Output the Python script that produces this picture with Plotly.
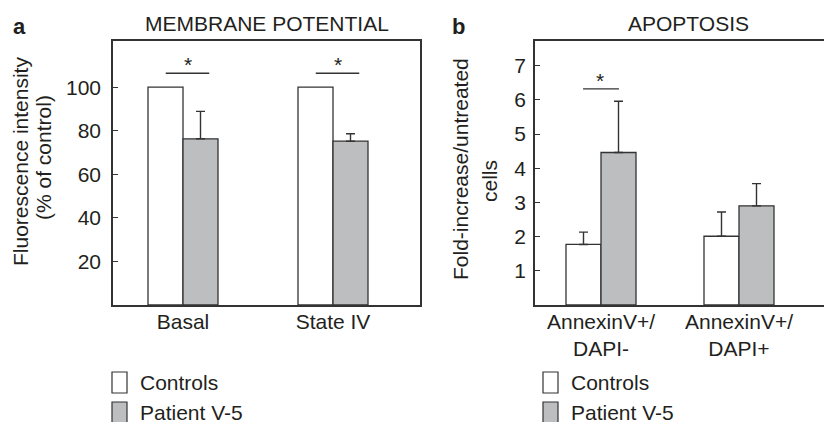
import plotly.graph_objects as go

# ---------------- data ----------------
mp_categories = ["Basal", "State IV"]
mp_controls = [100, 100]
mp_patient = [76.3, 75.2]
mp_patient_err = [12.6, 3.4]

ap_categories = ["AnnexinV+/<br>DAPI-", "AnnexinV+/<br>DAPI+"]
ap_controls = [1.77, 2.01]
ap_controls_err = [0.36, 0.71]
ap_patient = [4.46, 2.90]
ap_patient_err = [1.50, 0.65]

mp_ticks = [20, 40, 60, 80, 100]
ap_ticks = [1, 2, 3, 4, 5, 6, 7]

series_names = ["Controls", "Patient V-5"]
mp_signif = [0, 1]      # category indices with significance bar
ap_signif = [0]

# ---------------- styles ----------------
W, H = 832, 422
OFF = 8                      # default body margin of the html page
TOP, BOT = 41 - OFF, 305 - OFF
INK = "#231f20"
LINE = "#333333"
GREY = "#bcbec0"
FONT = "Liberation Sans, Arial, sans-serif"
FS = 21

fig = go.Figure()

bw_a = 35 / 150
bw_b = 35 / 138

# panel a bars
fig.add_trace(go.Bar(x=mp_categories, y=mp_controls, width=bw_a, offset=-bw_a,
                     marker=dict(color="white", line=dict(color=LINE, width=1.3)),
                     name=series_names[0], showlegend=False, xaxis="x", yaxis="y"))
fig.add_trace(go.Bar(x=mp_categories, y=mp_patient, width=bw_a, offset=0,
                     marker=dict(color=GREY, line=dict(color=LINE, width=1.3)),
                     error_y=dict(type="data", array=mp_patient_err, arrayminus=[0] * len(mp_patient_err),
                                  symmetric=False, color=LINE, thickness=1.4, width=4.5),
                     name=series_names[1], showlegend=False, xaxis="x", yaxis="y"))
# panel b bars
fig.add_trace(go.Bar(x=ap_categories, y=ap_controls, width=bw_b, offset=-bw_b,
                     marker=dict(color="white", line=dict(color=LINE, width=1.3)),
                     error_y=dict(type="data", array=ap_controls_err, arrayminus=[0] * len(ap_controls_err),
                                  symmetric=False, color=LINE, thickness=1.4, width=4.5),
                     name=series_names[0], showlegend=False, xaxis="x2", yaxis="y2"))
fig.add_trace(go.Bar(x=ap_categories, y=ap_patient, width=bw_b, offset=0,
                     marker=dict(color=GREY, line=dict(color=LINE, width=1.3)),
                     error_y=dict(type="data", array=ap_patient_err, arrayminus=[0] * len(ap_patient_err),
                                  symmetric=False, color=LINE, thickness=1.4, width=4.5),
                     name=series_names[1], showlegend=False, xaxis="x2", yaxis="y2"))

axis_common = dict(showline=True, linecolor=LINE, linewidth=1.5, showgrid=False, zeroline=False,
                   automargin=False, tickfont=dict(family=FONT, size=FS, color=INK))

fig.update_layout(
    template="none",
    width=W, height=H,
    margin=dict(l=0, r=0, t=TOP, b=H - BOT, pad=0),
    paper_bgcolor="white", plot_bgcolor="white",
    barmode="overlay",
    showlegend=False,
    font=dict(family=FONT, size=FS, color=INK),
    xaxis=dict(axis_common, domain=[(113 - OFF) / W, (420 - OFF) / W], type="category",
               range=[-70 / 150, 1 + 87 / 150], mirror=True, ticks="",
               ticklabelstandoff=-3, anchor="y"),
    yaxis=dict(axis_common, domain=[0, 1], range=[0, 121.2], mirror=True,
               tickvals=mp_ticks, ticks="inside", ticklen=5, tickcolor=LINE, tickwidth=1.3,
               ticklabelstandoff=6, anchor="x"),
    xaxis2=dict(axis_common, domain=[(535 - OFF) / W, (832 - OFF) / W], type="category",
                range=[-66 / 138, 1 + 93 / 138], mirror=True, ticks="",
                ticklabelstandoff=-3, anchor="y2"),
    yaxis2=dict(axis_common, domain=[0, 1], range=[0, 7.72], mirror=False,
                tickvals=ap_ticks, ticks="inside", ticklen=5, tickcolor=LINE, tickwidth=1.3,
                ticklabelstandoff=3, anchor="x2"),
)

shapes = []
annotations = []

# significance markers
for i in mp_signif:
    shapes.append(dict(type="line", xref="x", yref="y", x0=i - 0.115, x1=i + 0.175,
                       y0=106.4, y1=106.4, line=dict(color=LINE, width=1.4)))
    annotations.append(dict(xref="x", yref="y", x=i + 0.03, y=106.4, text="*", showarrow=False,
                            yanchor="bottom", font=dict(family=FONT, size=21, color=INK), yshift=-5))
for i in ap_signif:
    shapes.append(dict(type="line", xref="x2", yref="y2", x0=i - 0.13, x1=i + 0.13,
                       y0=6.32, y1=6.32, line=dict(color=LINE, width=1.4)))
    annotations.append(dict(xref="x2", yref="y2", x=i - 0.01, y=6.32, text="*", showarrow=False,
                            yanchor="bottom", font=dict(family=FONT, size=21, color=INK), yshift=-5))

def px_x(v):
    return (v - OFF) / W

def px_y(v):
    return (BOT - (v - OFF)) / (BOT - TOP)

# panel letters & titles
annotations += [
    dict(xref="paper", yref="paper", x=px_x(11), y=px_y(12), text="<b>a</b>", showarrow=False,
         xanchor="left", yanchor="top", font=dict(family=FONT, size=22, color=INK)),
    dict(xref="paper", yref="paper", x=px_x(450), y=px_y(12), text="<b>b</b>", showarrow=False,
         xanchor="left", yanchor="top", font=dict(family=FONT, size=22, color=INK)),
    dict(xref="paper", yref="paper", x=px_x(266.5), y=px_y(24), text="MEMBRANE POTENTIAL",
         showarrow=False, xanchor="center", yanchor="middle", font=dict(family=FONT, size=FS, color=INK)),
    dict(xref="paper", yref="paper", x=px_x(688), y=px_y(24), text="APOPTOSIS",
         showarrow=False, xanchor="center", yanchor="middle", font=dict(family=FONT, size=FS, color=INK)),
    # y-axis titles
    dict(xref="paper", yref="paper", x=px_x(20), y=px_y(162), text="Fluorescence intensity",
         showarrow=False, textangle=-90, xanchor="center", yanchor="middle",
         font=dict(family=FONT, size=FS, color=INK)),
    dict(xref="paper", yref="paper", x=px_x(43), y=px_y(158), text="(% of control)",
         showarrow=False, textangle=-90, xanchor="center", yanchor="middle",
         font=dict(family=FONT, size=FS, color=INK)),
    dict(xref="paper", yref="paper", x=px_x(460), y=px_y(169), text="Fold-increase/untreated",
         showarrow=False, textangle=-90, xanchor="center", yanchor="middle",
         font=dict(family=FONT, size=FS, color=INK)),
    dict(xref="paper", yref="paper", x=px_x(489), y=px_y(181), text="cells",
         showarrow=False, textangle=-90, xanchor="center", yanchor="middle",
         font=dict(family=FONT, size=FS, color=INK)),
]

# custom legends (one per panel)
legend_fills = ["white", GREY]
for lx in (112, 543):
    for k, name in enumerate(series_names):
        top = 372 + k * 30
        shapes.append(dict(type="rect", xref="paper", yref="paper",
                           x0=px_x(lx), x1=px_x(lx + 15), y0=px_y(top + 21), y1=px_y(top),
                           fillcolor=legend_fills[k], line=dict(color=LINE, width=1.2)))
        annotations.append(dict(xref="paper", yref="paper", x=px_x(lx + 26), y=px_y(top + 10.5),
                                text=name, showarrow=False, xanchor="left", yanchor="middle",
                                font=dict(family=FONT, size=FS, color=INK)))

fig.update_layout(shapes=shapes, annotations=annotations)

fig.write_html("out.html")
